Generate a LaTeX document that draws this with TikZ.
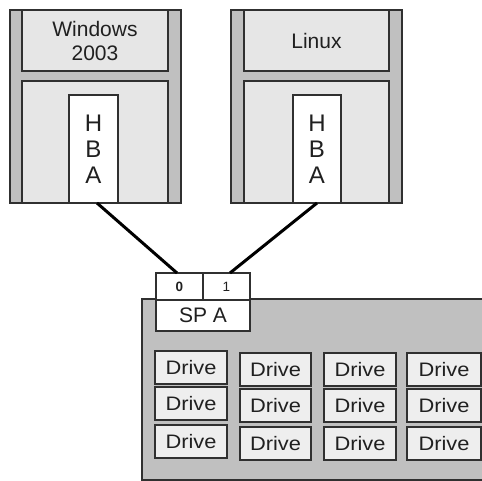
\documentclass[tikz,border=0pt]{standalone}
\usepackage{fontspec}
\setmainfont{Liberation Sans}
\newfontfamily\drivefont[FakeStretch=1.12]{Liberation Sans}
\definecolor{lc}{HTML}{303030}
\definecolor{side}{HTML}{C0C0C0}
\definecolor{panel}{HTML}{E6E6E6}
\definecolor{drv}{HTML}{EEEEEE}
\definecolor{tc}{HTML}{202020}
\begin{document}
\begin{tikzpicture}[x=1pt,y=-1pt,
  box/.style={draw=lc, line width=1.5pt, inner sep=0pt, outer sep=0pt, rectangle, anchor=north west, text=tc},
  sidebox/.style={box, fill=side},
  panelbox/.style={box, fill=panel, font=\fontsize{21}{25}\selectfont, align=center},
  hbabox/.style={box, fill=white, font=\fontsize{24}{26}\selectfont, align=center},
  portbox/.style={box, fill=white, font=\fontsize{13.5}{15}\selectfont},
  spbox/.style={box, fill=white, font=\fontsize{21}{24}\selectfont},
  drivebox/.style={box, fill=drv, font=\drivefont\fontsize{19.5}{22}\selectfont, minimum height=33pt},
  link/.style={draw=black, line width=3pt}
]
\useasboundingbox (0,0) rectangle (482,481);
% left server
\node[sidebox, minimum width=171pt, minimum height=193pt] (srvL) at (10,10) {};
\node[panelbox, minimum width=146pt, minimum height=61pt] (topL) at (22,10) {Windows\\[-1pt]2003};
\node[panelbox, minimum width=146pt, minimum height=122pt] (botL) at (22,81) {};
\node[hbabox, minimum width=49pt, minimum height=108pt] (hbaL) at (69,95) {H\\B\\A};
% right server
\node[sidebox, minimum width=171pt, minimum height=193pt] (srvR) at (231,10) {};
\node[panelbox, minimum width=145pt, minimum height=61pt] (topR) at (244,10) {Linux};
\node[panelbox, minimum width=145pt, minimum height=122pt] (botR) at (244,81) {};
\node[hbabox, minimum width=48pt, minimum height=108pt] (hbaR) at (293,95) {H\\B\\A};
% storage
\node[sidebox, minimum width=350pt, minimum height=181pt] (stor) at (142,299) {};
\node[portbox, minimum width=47pt, minimum height=27pt] (port0) at (156,273) {\textbf{0}};
\node[portbox, minimum width=47pt, minimum height=27pt] (port1) at (203,273) {1};
\node[spbox, minimum width=94pt, minimum height=31pt] (spa) at (156,300) {SP A};
% drives
\node[drivebox, minimum width=72pt] (d11) at (155,351) {Drive};
\node[drivebox, minimum width=72pt] (d21) at (155,387) {Drive};
\node[drivebox, minimum width=72pt] (d31) at (155,425) {Drive};
\node[drivebox, minimum width=71pt] (d12) at (240,353) {Drive};
\node[drivebox, minimum width=71pt] (d22) at (240,389) {Drive};
\node[drivebox, minimum width=71pt] (d32) at (240,427) {Drive};
\node[drivebox, minimum width=72pt] (d13) at (324,353) {Drive};
\node[drivebox, minimum width=72pt] (d23) at (324,389) {Drive};
\node[drivebox, minimum width=72pt] (d33) at (324,427) {Drive};
\node[drivebox, minimum width=74pt] (d14) at (407,353) {Drive};
\node[drivebox, minimum width=74pt] (d24) at (407,389) {Drive};
\node[drivebox, minimum width=74pt] (d34) at (407,427) {Drive};
% connectors
\draw[link] ([xshift=3.5pt]hbaL.south) -- ([xshift=-2.5pt]port0.north);
\draw[link] (hbaR.south) -- ([xshift=3.5pt]port1.north);
\end{tikzpicture}
\end{document}
